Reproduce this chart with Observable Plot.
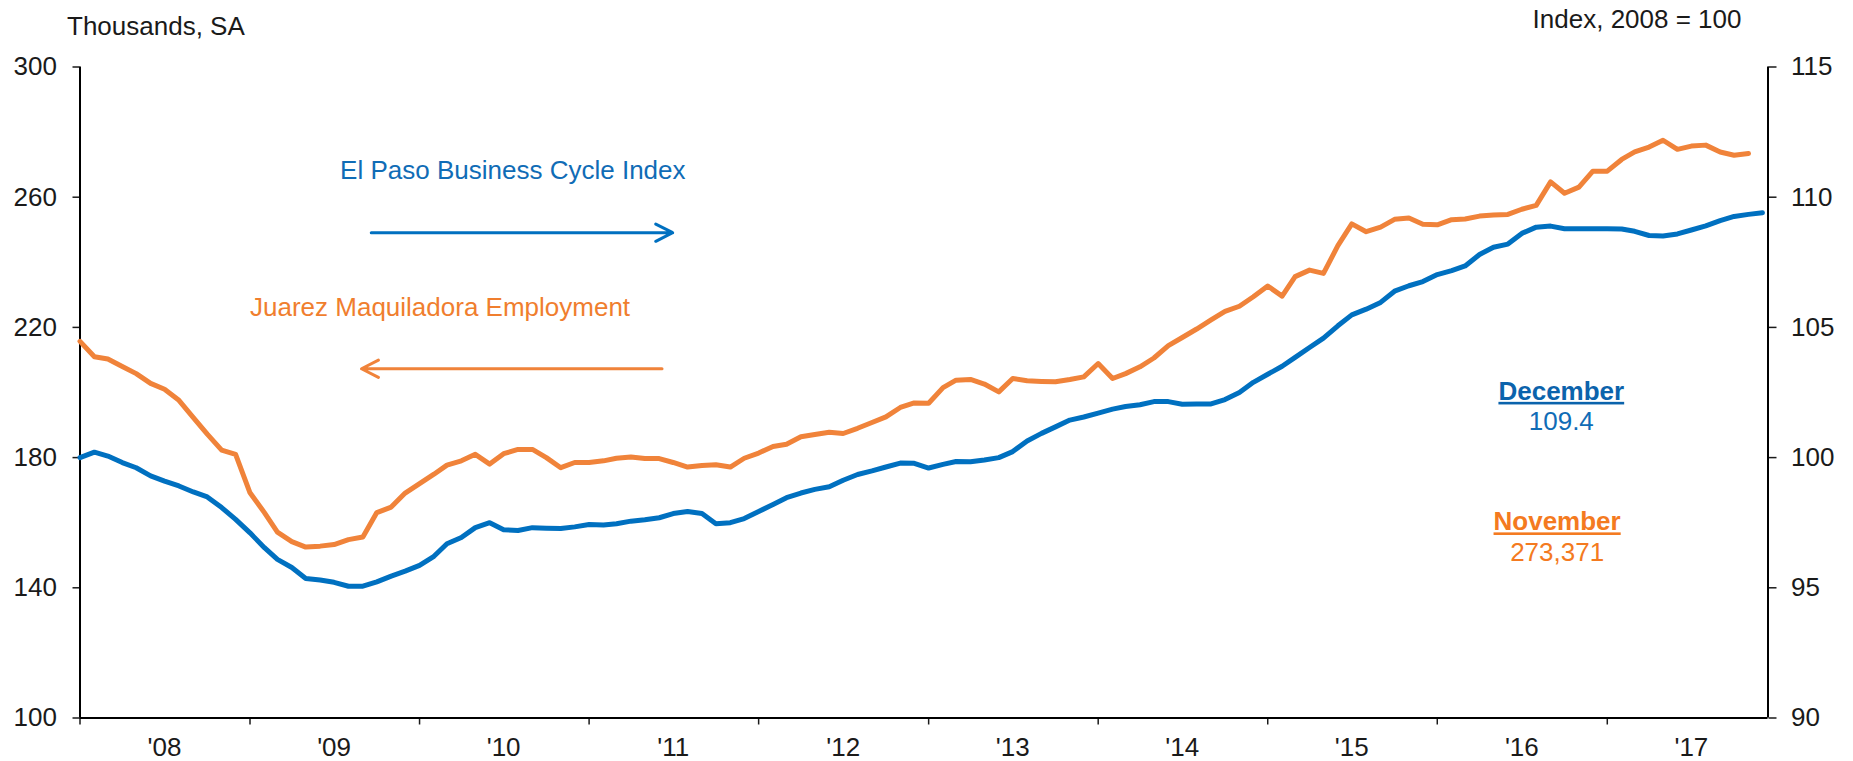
<!DOCTYPE html>
<html>
<head>
<meta charset="utf-8">
<script src="https://cdn.jsdelivr.net/npm/d3@7"></script>
<script src="https://cdn.jsdelivr.net/npm/@observablehq/plot@0.6"></script>
<style>
  html, body { margin: 0; padding: 0; background: #ffffff; }
  #chart { width: 1853px; height: 761px; overflow: hidden; }
</style>
</head>
<body>
<div id="chart"></div>
<script>
// ---- Data (monthly, starting January 2008) ----
const firstYear = 2008;
// Juarez Maquiladora Employment, thousands, SA (Jan 2008 – Nov 2017)
const juarezEmployment = [
  215.7, 211.0, 210.3, 208.0, 205.8, 202.8, 201.0, 197.6, 192.3, 187.2, 182.3, 181.0,
  169.2, 163.1, 157.1, 154.2, 152.5, 152.8, 153.3, 154.8, 155.6, 163.1, 164.8, 169.1,
  172.0, 174.9, 177.7, 179.0, 181.0, 178.0, 181.2, 182.5, 182.5, 180.0, 176.9, 178.5,
  178.5, 179.0, 179.8, 180.2, 179.7, 179.7, 178.5, 177.1, 177.6, 177.8, 177.1, 179.8,
  181.4, 183.4, 184.1, 186.4, 187.1, 187.8, 187.4, 189.0, 190.8, 192.5, 195.4, 196.8,
  196.7, 201.5, 203.8, 204.0, 202.6, 200.2, 204.3, 203.6, 203.4, 203.3, 204.0, 204.8,
  208.9, 204.3, 205.8, 207.9, 210.6, 214.4, 216.9, 219.5, 222.3, 224.9, 226.5, 229.4,
  232.7, 229.6, 235.6, 237.6, 236.6, 245.1, 251.8, 249.4, 250.8, 253.2, 253.6, 251.7,
  251.5, 253.1, 253.3, 254.2, 254.5, 254.7, 256.3, 257.5, 264.7, 261.2, 263.1, 268.0,
  268.0, 271.6, 273.9, 275.4, 277.5, 274.7, 275.7, 276.0, 273.9, 272.9, 273.4
];
// El Paso Business Cycle Index, 2008 = 100 (Jan 2008 – Dec 2017)
const elPasoIndex = [
  100.00, 100.21, 100.06, 99.81, 99.61, 99.30, 99.10, 98.91, 98.68, 98.49, 98.08, 97.63,
  97.11, 96.54, 96.09, 95.78, 95.36, 95.30, 95.21, 95.06, 95.06, 95.23, 95.45, 95.64,
  95.86, 96.21, 96.69, 96.93, 97.31, 97.50, 97.23, 97.20, 97.31, 97.29, 97.28, 97.34,
  97.43, 97.41, 97.46, 97.56, 97.61, 97.69, 97.85, 97.93, 97.85, 97.46, 97.50, 97.66,
  97.93, 98.20, 98.46, 98.64, 98.78, 98.88, 99.13, 99.35, 99.49, 99.64, 99.79, 99.78,
  99.60, 99.74, 99.85, 99.84, 99.91, 100.00, 100.23, 100.64, 100.93, 101.18, 101.44, 101.56,
  101.71, 101.86, 101.96, 102.03, 102.15, 102.15, 102.05, 102.06, 102.06, 102.23, 102.50, 102.89,
  103.20, 103.51, 103.85, 104.23, 104.59, 105.06, 105.48, 105.70, 105.96, 106.39, 106.60, 106.76,
  107.03, 107.18, 107.36, 107.80, 108.08, 108.20, 108.61, 108.85, 108.89, 108.79, 108.79, 108.79,
  108.79, 108.78, 108.69, 108.53, 108.51, 108.59, 108.74, 108.90, 109.10, 109.26, 109.34, 109.40
];
const leftTicks = [100, 140, 180, 220, 260, 300];
const rightTicks = [90, 95, 100, 105, 110, 115];
const years = [2008, 2009, 2010, 2011, 2012, 2013, 2014, 2015, 2016, 2017];
const yearLabels = ["'08", "'09", "'10", "'11", "'12", "'13", "'14", "'15", "'16", "'17"];
const leftTitle = "Thousands, SA";
const rightTitle = "Index, 2008 = 100";

// Annotations (data coordinates on the left scale)
const seriesLabels = [
  {text: "El Paso Business Cycle Index", date: "2009-07-14", value: 268.2, color: "#106CB6"},
  {text: "Juarez Maquiladora Employment", date: "2009-01-01", value: 226.1, color: "#F07E2E"}
];
const latestHeaders = [
  {text: "December", date: "2016-09-24", value: 200.3, color: "#0B63AC"},
  {text: "November", date: "2016-09-15", value: 160.2, color: "#F47A20"}
];
const latestValues = [
  {text: "109.4", date: "2016-09-24", value: 191.1, color: "#106CB6"},
  {text: "273,371", date: "2016-09-15", value: 150.9, color: "#F47A20"}
];
const arrows = [
  {from: "2009-09-19", to: "2011-06-30", value: 249.1, color: "#0070C0"},
  {from: "2011-06-07", to: "2009-08-29", value: 207.3, color: "#F0833A"}
];

// ---- Build ----
const blue = "#0070C0";
const orange = "#F0833A";
const ink = "#1a1a1a";
const toLeft = v => 100 + (v - 90) * 8; // right-axis index -> left-axis units
const months = d3.utcMonths(new Date(Date.UTC(firstYear, 0, 1)), new Date(Date.UTC(firstYear + 10, 0, 1)));
const juarezData = juarezEmployment.map((v, i) => ({date: months[i], value: v}));
const indexData = elPasoIndex.map((v, i) => ({date: months[i], value: toLeft(v)}));
const rightLabel = new Map(rightTicks.map(t => [toLeft(t), String(t)]));
const yearStarts = years.map(y => new Date(Date.UTC(y, 0, 1)));
const yearMids = years.map(y => new Date(Date.UTC(y, 6, 1)));
const d = s => new Date(s + "T00:00:00Z");

const xDomain = [new Date(Date.UTC(2008, 0, 1)), new Date(Date.UTC(2017, 11, 13))];

const chart = Plot.plot({
  width: 1853,
  height: 761,
  marginLeft: 79.5,
  marginRight: 85.5,
  marginTop: 66.5,
  marginBottom: 43.5,
  style: {fontFamily: "'Liberation Sans', Arial, sans-serif", fontSize: "26px", color: ink, background: "#ffffff", overflow: "visible"},
  x: {type: "utc", domain: xDomain},
  y: {domain: [100, 300]},
  marks: [
    // axes
    Plot.axisY({anchor: "left", ticks: leftTicks, tickSize: 7, tickPadding: 16, label: null, fontSize: 26, strokeWidth: 1.5}),
    Plot.axisY({anchor: "right", ticks: rightTicks.map(toLeft), tickFormat: v => rightLabel.get(v), tickSize: 8, tickPadding: 15, label: null, fontSize: 26, strokeWidth: 1.5}),
    Plot.axisX({ticks: yearStarts, tickSize: 7, tickFormat: () => "", label: null, strokeWidth: 1.5}),
    Plot.text(yearMids, {x: v => v, text: (v, i) => yearLabels[i], frameAnchor: "bottom", dy: 30, lineAnchor: "middle", fontSize: 26, fill: ink}),
    Plot.ruleX([xDomain[0]], {stroke: "#000", strokeWidth: 2}),
    Plot.ruleX([xDomain[1]], {stroke: "#000", strokeWidth: 2}),
    Plot.ruleY([100], {stroke: "#000", strokeWidth: 2}),
    // axis titles
    Plot.text([leftTitle], {text: v => v, frameAnchor: "top-left", textAnchor: "start", lineAnchor: "top", dx: -13, dy: -50, fontSize: 26, fill: ink}),
    Plot.text([rightTitle], {text: v => v, frameAnchor: "top-right", textAnchor: "end", lineAnchor: "top", dx: -26.5, dy: -57, fontSize: 26, fill: ink}),
    // series
    Plot.line(juarezData, {x: "date", y: "value", stroke: orange, strokeWidth: 5}),
    Plot.line(indexData, {x: "date", y: "value", stroke: blue, strokeWidth: 5}),
    // annotations
    Plot.arrow(arrows, {x1: a => d(a.from), x2: a => d(a.to), y1: "value", y2: "value", stroke: "color", strokeWidth: 3, headLength: 9.5, headAngle: 54}),
    Plot.text(seriesLabels, {x: a => d(a.date), y: "value", text: "text", fill: "color", textAnchor: "start", lineAnchor: "middle", fontSize: 26}),
    Plot.text(latestHeaders, {x: a => d(a.date), y: "value", text: "text", fill: "color", fontWeight: "bold", textAnchor: "middle", lineAnchor: "middle", fontSize: 26}),
    Plot.text(latestValues, {x: a => d(a.date), y: "value", text: "text", fill: "color", textAnchor: "middle", lineAnchor: "middle", fontSize: 26})
  ]
});

// underline the latest-month headers
d3.select(chart).selectAll("text")
  .filter(function() { return this.textContent === "December" || this.textContent === "November"; })
  .attr("text-decoration", "underline");

document.getElementById("chart").appendChild(chart);
</script>
</body>
</html>
